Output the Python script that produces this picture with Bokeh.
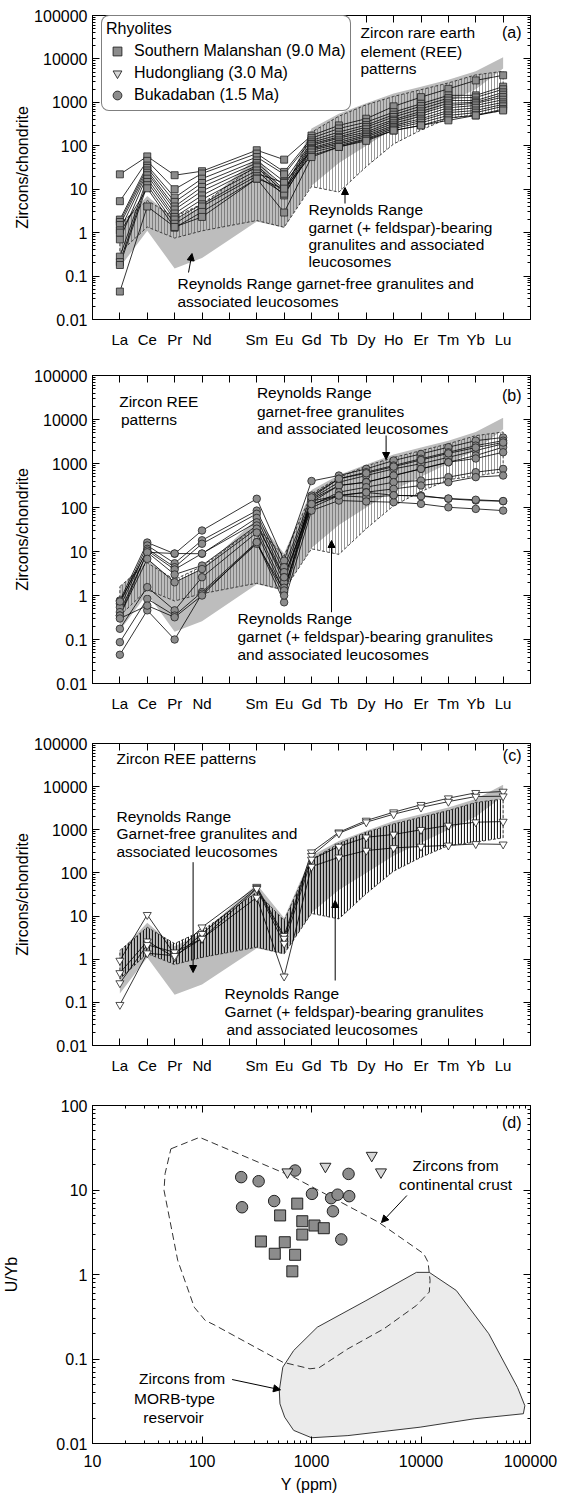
from bokeh.plotting import figure
from bokeh.models import (FixedTicker, LinearAxis, LogAxis, CustomJSTickFormatter, Label,
                          Arrow, NormalHead, Legend, LegendItem, Range1d)
from bokeh.layouts import column
from bokeh.embed import file_html
from bokeh.resources import INLINE

FONT = "Liberation Sans"

# ---------------- data ----------------
ELEMENTS = ["La", "Ce", "Pr", "Nd", "Pm", "Sm", "Eu", "Gd", "Tb", "Dy", "Ho", "Er", "Tm", "Yb", "Lu"]
REE = ["La", "Ce", "Pr", "Nd", "Sm", "Eu", "Gd", "Tb", "Dy", "Ho", "Er", "Tm", "Yb", "Lu"]

# Reynolds Range reference fields (chondrite-normalised)
garnet_free_upper = [1.5, 7.0, 2.0, 4.0, 55, 9.0, 250, 550, 950, 1600, 2300, 3300, 5200, 11000]
garnet_free_lower = [0.16, 1.1, 0.15, 0.26, 1.8, 1.3, 12, 40, 100, 250, 500, 1000, 2000, 6000]
garnet_bear_upper = [1.6, 5.5, 2.3, 4.6, 36, 7.9, 205, 480, 880, 1370, 1960, 2800, 4300, 5200]
garnet_bear_lower = [0.35, 1.35, 0.75, 1.1, 1.9, 1.33, 11.5, 8.6, 33, 110, 230, 430, 520, 650]

# (a) Southern Malanshan rhyolite zircons
malanshan = [
    [22, 57, 21, 26, 79, 48, 172, 295, 420, 810, 1320, 2050, 3200, 4200],
    [5.3, 45, 10, 23, 66, 25, 150, 250, 350, 595, 930, 1450, 1450, 2300],
    [2.0, 35, 6.4, 17.5, 55, 22, 133, 208, 300, 520, 820, 1250, 1300, 2000],
    [1.76, 31, 5.1, 13.9, 46, 15, 120, 180, 270, 460, 710, 1100, 1100, 1700],
    [1.5, 27, 4.0, 11.3, 40, 12, 110, 160, 240, 400, 620, 950, 1000, 1500],
    [1.13, 24, 3.4, 9.1, 35, 10, 101, 150, 208, 370, 550, 850, 950, 1320],
    [0.70, 21, 2.75, 7.2, 32, 8.6, 90, 133, 190, 330, 480, 750, 850, 1150],
    [0.28, 17.5, 2.3, 5.8, 27, 7.2, 85, 120, 173, 295, 420, 650, 750, 1000],
    [0.21, 14.7, 2.0, 4.5, 23, 14, 79, 110, 160, 270, 380, 580, 650, 900],
    [0.18, 12.4, 1.6, 4.0, 20, 7.9, 70, 101, 145, 250, 340, 500, 580, 810],
    [1.0, 10.5, 1.3, 3.0, 17.5, 10.3, 60, 94, 140, 225, 295, 440, 500, 700],
    [0.044, 4.0, 1.35, 2.3, 17.5, 2.9, 55, 94, 130, 225, 295, 385, 500, 650],
]

# (b) Bukadaban rhyolite zircons
bukadaban = [
    [0.77, 16, 8.9, 30, 158, 6.2, 400, 533, 755, 1170, 1650, 2350, 3300, 3900],
    [0.65, 13.7, 5.4, 18, 85, 4.4, 187, 450, 635, 900, 1280, 1800, 2550, 3300],
    [0.54, 11.5, 4.4, 15, 72, 3.4, 158, 376, 533, 755, 990, 1380, 1970, 2800],
    [0.42, 9.6, 9.0, 8.9, 58, 2.6, 132, 316, 376, 533, 755, 1070, 1520, 2350],
    [0.73, 10.5, 3.9, 9.0, 46, 2.0, 150, 316, 376, 533, 755, 1070, 1300, 1800],
    [0.35, 9.6, 3.0, 4.8, 39, 2.6, 111, 223, 290, 376, 410, 490, 635, 755],
    [0.35, 6.8, 2.0, 4.0, 33, 1.5, 100, 187, 223, 265, 316, 376, 490, 533],
    [0.175, 1.55, 0.46, 2.6, 27, 1.2, 140, 187, 171, 187, 187, 158, 144, 139],
    [0.087, 0.84, 0.35, 1.2, 16.3, 0.7, 85, 144, 137, 132, 121, 101, 93, 85],
    [0.045, 0.46, 0.1, 1.1, 15, 1.3, 170, 450, 600, 850, 1200, 1700, 2300, 3000],
    [0.30, 0.59, 0.32, 1.0, 16.3, 1.0, 120, 187, 220, 190, 180, 160, 150, 140],
]

# (c) Hudongliang rhyolite zircons
hudongliang = [
    [0.93, 10.7, 1.28, 5.5, 48, 3.5, 302, 877, 1640, 2560, 3800, 5400, 7200, 7700],
    [0.48, 2.6, 1.11, 3.9, 45, 3.0, 250, 830, 1500, 2300, 3300, 4500, 5900, 6000],
    [0.28, 2.15, 1.45, 3.0, 43, 2.3, 205, 410, 670, 780, 1000, 1260, 1500, 1550],
    [0.088, 1.38, 1.2, 3.0, 27, 0.40, 140, 230, 330, 380, 410, 435, 470, 460],
]

# (d) U/Yb vs Y (ppm)
malanshan_y = [741, 517, 824, 1065, 1295, 824, 345, 570, 462, 708, 668]
malanshan_uyb = [6.9, 5.0, 4.27, 3.8, 3.53, 2.97, 2.46, 2.41, 1.76, 1.71, 1.09]
hudongliang_y = [603, 1340, 3550, 4310]
hudongliang_uyb = [16.3, 19.0, 25.6, 16.3]
bukadaban_y = [228, 329, 708, 2180, 232, 456, 1010, 1510, 1730, 2210, 1570, 1870]
bukadaban_uyb = [14.2, 12.7, 17.0, 15.5, 6.25, 7.4, 9.0, 8.0, 8.8, 8.45, 5.6, 2.6]

crust_y = [52, 95, 687, 4090, 10600, 11600, 12100, 11900, 9080, 4590, 2150, 1170, 968, 547,
           129, 107, 85, 60, 45, 46]
crust_uyb = [30.7, 42, 14.2, 4.16, 1.76, 1.40, 0.85, 0.62, 0.43, 0.228, 0.132, 0.0787, 0.0766,
             0.0916, 0.254, 0.286, 0.41, 1.47, 9.9, 15.6]
morb_y = [508, 547, 687, 1130, 3140, 9080, 11900, 21000, 41600, 76200, 88800, 86100, 30600,
          9820, 2150, 1000, 687, 569, 515]
morb_uyb = [0.0424, 0.080, 0.126, 0.238, 0.49, 1.06, 1.06, 0.647, 0.199, 0.046, 0.028, 0.0225,
            0.0196, 0.0156, 0.0124, 0.0117, 0.0143, 0.0205, 0.0295]

# ---------------- layout constants ----------------
W = 571
LEFT = 88
RIGHT = 41
REE_X = [ELEMENTS.index(e) for e in REE]
SQ_FILL = "#8c8c8c"
EDGE = "#222222"
NAN = float("nan")


def num_formatter():
    return CustomJSTickFormatter(code="""
        if (tick >= 1) { return tick.toFixed(0); }
        return String(parseFloat(tick.toPrecision(2)));
    """)


def blank_formatter():
    return CustomJSTickFormatter(code="return '';")


def log_ticker(lo, hi):
    return FixedTicker(ticks=[10.0 ** k for k in range(lo, hi + 1)],
                       minor_ticks=[m * 10.0 ** k for k in range(lo, hi) for m in range(2, 10)])


def style_axis(ax, labels=True, size="16px"):
    ax.major_tick_in = 7
    ax.major_tick_out = 0
    ax.minor_tick_in = 3
    ax.minor_tick_out = 0
    ax.axis_line_color = "black"
    ax.major_tick_line_color = "black"
    ax.minor_tick_line_color = "black"
    ax.major_label_text_font = FONT
    ax.major_label_text_color = "black"
    ax.major_label_text_font_size = size
    ax.axis_label_text_font = FONT
    ax.axis_label_text_font_size = "16px"
    ax.axis_label_text_font_style = "normal"
    ax.axis_label_text_color = "black"
    if not labels:
        ax.formatter = blank_formatter()
        ax.major_label_text_font_size = "0px"
        ax.major_label_standoff = 0


def add_label(p, text, x, y, fb, align="left", size="15.5px"):
    p.add_layout(Label(x=x - LEFT, y=fb - y, x_units="screen", y_units="screen", text=text,
                       text_font=FONT, text_font_size=size, text_color="black",
                       text_align=align, text_baseline="middle"))


def add_arrow(p, x0, y0, x1, y1, fb):
    p.add_layout(Arrow(end=NormalHead(size=7, fill_color="black", line_color="black"),
                       x_start=x0 - LEFT, y_start=fb - y0, x_end=x1 - LEFT, y_end=fb - y1,
                       start_units="screen", end_units="screen",
                       line_color="black", line_width=1))


def ree_panel(h, top, bottom, hatch_color, hatch_weight):
    p = figure(width=W, height=h, x_range=Range1d(-1, 15), y_range=Range1d(0.01, 1e5),
               y_axis_type="log", output_backend="svg", toolbar_location=None,
               min_border_left=LEFT, min_border_right=RIGHT,
               min_border_top=top, min_border_bottom=bottom)
    p.xgrid.visible = False
    p.ygrid.visible = False
    p.outline_line_color = "black"
    p.background_fill_color = "white"

    xt = FixedTicker(ticks=list(range(len(ELEMENTS))))
    xa = p.xaxis[0]
    xa.ticker = xt
    xa.major_label_overrides = {i: ("" if e == "Pm" else e) for i, e in enumerate(ELEMENTS)}
    style_axis(xa, size="15px")
    xa.major_label_standoff = 11

    ya = p.yaxis[0]
    ya.ticker = log_ticker(-2, 5)
    ya.formatter = num_formatter()
    style_axis(ya)
    ya.axis_label = "Zircons/chondrite"
    ya.axis_label_standoff = 0

    top_ax = LinearAxis(ticker=FixedTicker(ticks=list(range(len(ELEMENTS)))))
    style_axis(top_ax, labels=False)
    p.add_layout(top_ax, "above")
    right_ax = LogAxis(ticker=log_ticker(-2, 5))
    style_axis(right_ax, labels=False)
    p.add_layout(right_ax, "right")

    px = REE_X + REE_X[::-1]
    p.patch(px, garnet_free_upper + garnet_free_lower[::-1], fill_color="#bdbdbd",
            line_color=None)
    p.patch(px, garnet_bear_upper + garnet_bear_lower[::-1], fill_alpha=0, fill_color=None,
            line_color="#333333", line_dash="3 2", line_width=0.9,
            hatch_pattern="vertical_line", hatch_color=hatch_color, hatch_scale=3,
            hatch_weight=hatch_weight)
    return p


def draw_samples(p, samples, marker, fill, size):
    p.multi_line([REE_X] * len(samples), samples, line_color="black", line_width=0.8)
    for s in samples:
        p.scatter(REE_X, s, marker=marker, size=size, fill_color=fill, line_color=EDGE,
                  line_width=0.8)


# ---------------- panel (a) ----------------
fa = 319
pa = ree_panel(355, 15, 36, "#555555", 0.6)
draw_samples(pa, malanshan, "square", SQ_FILL, 7)
# legend-only renderers (a single undefined point, never drawn in the plot area)
r_sq = pa.scatter([NAN], [NAN], marker="square", size=14, fill_color=SQ_FILL,
                  line_color=EDGE, line_width=0.9)
r_tr = pa.scatter([NAN], [NAN], marker="inverted_triangle", size=14, fill_color="#d6d6d6",
                  line_color=EDGE, line_width=0.9)
r_ci = pa.scatter([NAN], [NAN], marker="circle", size=14, fill_color=SQ_FILL,
                  line_color=EDGE, line_width=0.9)
legend = Legend(items=[LegendItem(label="Southern Malanshan (9.0 Ma)", renderers=[r_sq], index=0),
                       LegendItem(label="Hudongliang (3.0 Ma)", renderers=[r_tr], index=0),
                       LegendItem(label="Bukadaban (1.5 Ma)", renderers=[r_ci], index=0)],
                title="Rhyolites", location=(9, 208), orientation="vertical",
                border_line_color="black", border_line_width=1, background_fill_color="white",
                background_fill_alpha=1, glyph_height=22, glyph_width=22, label_height=22,
                spacing=0, padding=4, margin=0, label_standoff=6, title_standoff=2,
                label_text_font=FONT, label_text_font_size="16px", label_text_color="black",
                title_text_font=FONT, title_text_color="black",
                title_text_font_size="16px", title_text_font_style="normal")
if "border_radius" in Legend.properties():
    legend.border_radius = 8
pa.add_layout(legend)
add_label(pa, "Zircon rare earth", 356, 31.7, fa)
add_label(pa, "element (REE)", 356, 51.0, fa)
add_label(pa, "patterns", 356, 68.3, fa)
add_label(pa, "(a)", 517, 31.7, fa, align="right", size="16px")
add_label(pa, "Reynolds Range", 304, 209.3, fa)
add_label(pa, "garnet (+ feldspar)-bearing", 304, 226.7, fa)
add_label(pa, "granulites and associated", 304, 243.8, fa)
add_label(pa, "leucosomes", 304, 261, fa)
add_arrow(pa, 340.5, 203, 340.5, 187, fa)
add_label(pa, "Reynolds Range garnet-free granulites and", 173, 283.3, fa)
add_label(pa, "associated leucosomes", 173, 300.7, fa)
add_arrow(pa, 184, 272, 187.5, 253, fa)

# ---------------- panel (b) ----------------
fb_ = 683
pb = ree_panel(365, 20, 37, "#555555", 0.6)
draw_samples(pb, bukadaban, "circle", SQ_FILL, 7.5)
add_label(pb, "Zircon REE", 114.7, 401, fb_)
add_label(pb, " patterns", 116.5, 419, fb_)
add_label(pb, "Reynolds Range", 252.4, 392.3, fb_)
add_label(pb, "garnet-free granulites", 252.4, 410.7, fb_)
add_label(pb, "and associated leucosomes", 252.4, 428.3, fb_)
add_arrow(pb, 381.6, 435, 381.6, 459, fb_)
add_label(pb, "(b)", 517, 395, fb_, align="right", size="16px")
add_label(pb, "Reynolds Range", 233, 617.7, fb_)
add_label(pb, "garnet (+ feldspar)-bearing granulites", 233, 636.3, fb_)
add_label(pb, "and associated leucosomes", 233, 654, fb_)
add_arrow(pb, 327, 611.7, 327, 540, fb_)

# ---------------- panel (c) ----------------
fc = 1045
pc = ree_panel(360, 23, 35, "#1a1a1a", 1.2)
draw_samples(pc, hudongliang, "inverted_triangle", "white", 8)
add_label(pc, "Zircon REE patterns", 112, 758.3, fc)
add_label(pc, "(c)", 517, 755, fc, align="right", size="16px")
add_label(pc, "Reynolds Range", 112, 816, fc)
add_label(pc, "Garnet-free granulites and", 112, 833.3, fc)
add_label(pc, "associated leucosomes", 112, 851, fc)
add_arrow(pc, 188.6, 861.7, 188.6, 972, fc)
add_label(pc, "Reynolds Range", 220, 992.7, fc)
add_label(pc, "Garnet (+ feldspar)-bearing granulites", 220, 1010.7, fc)
add_label(pc, " and associated leucosomes", 222, 1028.7, fc)
add_arrow(pc, 330.7, 980, 330.7, 900, fc)

# ---------------- panel (d) ----------------
fd = 1443
pd_ = figure(width=W, height=417, x_range=Range1d(10, 1e5), y_range=Range1d(0.01, 100),
             x_axis_type="log", y_axis_type="log", output_backend="svg",
             toolbar_location=None, min_border_left=LEFT, min_border_right=RIGHT,
             min_border_top=25, min_border_bottom=54)
pd_.xgrid.visible = False
pd_.ygrid.visible = False
pd_.outline_line_color = "black"
xa = pd_.xaxis[0]
xa.ticker = log_ticker(1, 5)
xa.formatter = num_formatter()
style_axis(xa)
xa.major_label_standoff = 11
xa.axis_label = "Y  (ppm)"
xa.axis_label_standoff = 6
ya = pd_.yaxis[0]
ya.ticker = log_ticker(-2, 2)
ya.formatter = num_formatter()
style_axis(ya)
ya.axis_label = "U/Yb"
ya.axis_label_standoff = 33
ta = LogAxis(ticker=log_ticker(1, 5))
style_axis(ta, labels=False)
pd_.add_layout(ta, "above")
ra = LogAxis(ticker=log_ticker(-2, 2))
style_axis(ra, labels=False)
pd_.add_layout(ra, "right")

pd_.patch(morb_y, morb_uyb, fill_color="#ebebeb", line_color="#222222", line_width=0.9)
pd_.patch(crust_y, crust_uyb, fill_color=None, fill_alpha=0, line_color="#333333",
          line_dash="7 4", line_width=1)
pd_.scatter(bukadaban_y, bukadaban_uyb, marker="circle", size=11.5, fill_color=SQ_FILL,
            line_color=EDGE, line_width=1)
pd_.scatter(malanshan_y, malanshan_uyb, marker="square", size=11, fill_color=SQ_FILL,
            line_color=EDGE, line_width=1)
pd_.scatter(hudongliang_y, hudongliang_uyb, marker="inverted_triangle", size=11,
            fill_color="#d6d6d6", line_color=EDGE, line_width=1)
add_label(pd_, "(d)", 517, 1121.7, fd, align="right", size="16px")
add_label(pd_, "Zircons from", 451, 1165, fd, align="center")
add_label(pd_, "continental crust", 451, 1184, fd, align="center")
add_arrow(pd_, 402.4, 1195, 377, 1222, fd)
add_label(pd_, "Zircons from", 177.6, 1378.3, fd, align="center")
add_label(pd_, "MORB-type", 170, 1397.7, fd, align="center")
add_label(pd_, "reservoir", 169, 1416.7, fd, align="center")
add_arrow(pd_, 227.6, 1379, 276, 1389.3, fd)

layout = column(pa, pb, pc, pd_, spacing=0)
open("out.html", "w").write(file_html(layout, INLINE))
